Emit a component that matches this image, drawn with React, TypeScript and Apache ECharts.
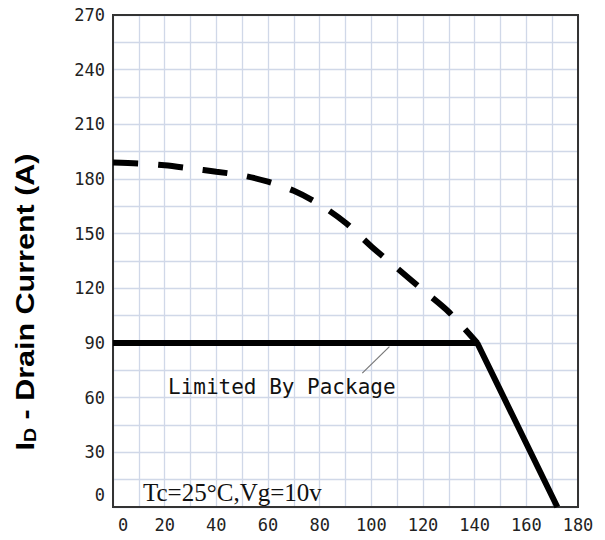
import React, { useEffect, useRef } from "react";
import * as echarts from "echarts";

const dashedX = [0, 10, 20, 30, 40, 50, 60, 70, 80, 90, 100, 110, 120, 130, 141];
const dashedY = [189, 188.5, 187.5, 185.8, 184, 182, 178.5, 173.5, 166, 156, 143, 131, 119, 107, 90];
const packageX = [0, 141, 172];
const packageY = [90, 90, 0];
const leaderX = [96.5, 107];
const leaderY = [73.5, 88];

const xMin = 0, xMax = 180, xStep = 10, xLabelStep = 20;
const yMin = 0, yMax = 270, yStep = 15, yLabelStep = 30;

const annotationText = "Limited By Package";
const conditionText = "Tc=25°C,Vg=10v";

const zip = (xs: number[], ys: number[]) => xs.map((x, i) => [x, ys[i]]);

export default function App() {
  const ref = useRef<HTMLDivElement>(null);
  useEffect(() => {
    if (!ref.current) return;
    document.body.style.margin = "0";
    const chart = echarts.init(ref.current, null, { renderer: "svg" });
    const mono = "'DejaVu Sans Mono', monospace";
    chart.setOption({
      animation: false,
      backgroundColor: "#fff",
      grid: {
        left: 113,
        top: 15,
        right: 27,
        bottom: 33,
        show: true,
        borderColor: "#333",
        borderWidth: 2,
        backgroundColor: "transparent",
        z: 3,
      },
      xAxis: {
        type: "value",
        min: xMin,
        max: xMax,
        interval: xStep,
        axisLine: { show: false },
        axisTick: { show: false },
        splitLine: { show: true, lineStyle: { color: "#d0d8e8", width: 1.3 } },
        axisLabel: {
          margin: 9,
          color: "#222",
          fontFamily: mono,
          fontSize: 17,
          formatter: (v: number) =>
            v % xLabelStep !== 0 ? "" : v === 0 ? "{z|0}" : String(v),
          rich: { z: { padding: [0, 0, 0, 20], fontFamily: mono, fontSize: 17, color: "#222" } },
        },
      },
      yAxis: {
        type: "value",
        min: yMin,
        max: yMax,
        interval: yStep,
        axisLine: { show: false },
        axisTick: { show: false },
        splitLine: { show: true, lineStyle: { color: "#d0d8e8", width: 1.3 } },
        axisLabel: {
          margin: 8,
          color: "#222",
          fontFamily: mono,
          fontSize: 17,
          formatter: (v: number) =>
            v % yLabelStep !== 0 ? "" : v === 0 ? "{z|0}" : String(v),
          rich: { z: { padding: [0, 0, 24, 0], fontFamily: mono, fontSize: 17, color: "#222" } },
        },
      },
      series: [
        {
          type: "line",
          data: zip(dashedX, dashedY),
          symbol: "none",
          smooth: 0.3,
          lineStyle: { color: "#000", width: 6, type: [25, 20], cap: "butt" },
          z: 4,
        },
        {
          type: "line",
          data: zip(packageX, packageY),
          symbol: "none",
          lineStyle: { color: "#000", width: 6, type: "solid" },
          z: 5,
        },
        {
          type: "line",
          data: zip(leaderX, leaderY),
          symbol: "none",
          lineStyle: { color: "#777", width: 1.2 },
          z: 4,
        },
      ],
      graphic: [
        {
          type: "text",
          x: 168,
          y: 387,
          z: 10,
          style: {
            text: annotationText,
            fontFamily: mono,
            fontSize: 21,
            fill: "#111",
            verticalAlign: "middle",
            align: "left",
          },
        },
        {
          type: "text",
          x: 143,
          y: 492,
          z: 10,
          style: {
            text: conditionText,
            fontFamily: "'Liberation Serif', serif",
            fontSize: 25,
            fill: "#111",
            verticalAlign: "middle",
            align: "left",
          },
        },
        {
          type: "text",
          x: 25,
          y: 302,
          rotation: Math.PI / 2,
          scaleX: 1.22,
          z: 10,
          style: {
            text: "{a|I}{b|D}{a| - Drain Current (A)}",
            align: "center",
            verticalAlign: "middle",
            rich: {
              a: { fontFamily: "'Liberation Sans', Arial, sans-serif", fontWeight: "bold", fontSize: 25, fill: "#000", lineHeight: 30 },
              b: { fontFamily: "'Liberation Sans', Arial, sans-serif", fontWeight: "bold", fontSize: 16, fill: "#000", padding: [12, 0, 0, 0], lineHeight: 30 },
            },
          },
        },
      ],
    });
    return () => chart.dispose();
  }, []);
  return <div ref={ref} style={{ width: 605, height: 540 }} />;
}
